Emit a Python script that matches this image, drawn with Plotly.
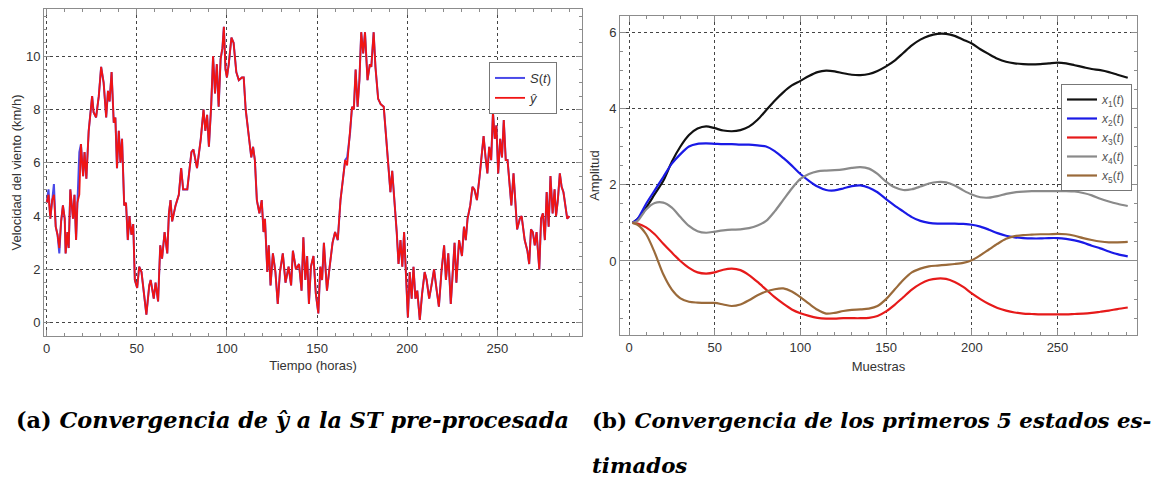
import plotly.graph_objects as go

# ---------------- Left chart data: wind speed (km/h) vs time (hours) ----------------
horas = [0, 1, 2, 3, 4, 5, 6, 7, 8, 9, 10, 10.5, 11.5, 12.2, 13.1, 14.6, 15.4, 16.3, 17, 18.1,
         19, 20.2, 21, 22, 23.3, 24.3, 25.2, 26, 27.4, 28.9, 30.2, 31.6, 33, 34, 34.9, 36, 37.2,
         38.1, 39, 40, 40.9, 41.8, 43, 44, 45, 45.9, 47, 48, 48.9, 50.2, 51.3, 52.6, 53.9, 55.3,
         56.9, 57.7, 59.4, 60.4, 61.8, 63, 64, 65.4, 66.9, 67.8, 68.7, 69.6, 71.5, 73.3, 74.6,
         75.7, 78, 80.3, 81.4, 83.4, 85.5, 87, 88, 89, 90, 91.3, 92.3, 93.4, 94.4, 95.4, 96.5,
         97.5, 98.3, 99.2, 100, 101, 102.5, 103.7, 105.2, 106.6, 108.3, 109.3, 110.4, 111.8,
         113.5, 114.5, 115.5, 116.6, 118, 119.3, 120.3, 121.1, 122.4, 123.2, 124.2, 125.5, 126.9,
         128.2, 129.4, 131, 132.5, 134.2, 135.6, 136.6, 138.3, 140, 141.4, 142.4, 143.5, 144.5,
         145.5, 146.6, 148, 149.3, 150.7, 151.8, 152.8, 153.8, 155.5, 157, 158.6, 160, 161.5,
         163, 164.6, 165.6, 166.7, 168.3, 169.4, 170.4, 171.4, 172.5, 173.5, 174.5, 175.6, 176.6,
         178, 179.3, 180.1, 181.4, 182.4, 183.9, 185.3, 187, 188.4, 189.6, 190.7, 191.7, 193.2,
         194.2, 195.2, 196.3, 197.3, 198.3, 199.4, 200.4, 201.4, 202.5, 203.5, 204.6, 205.6, 207,
         208.3, 209.7, 210.8, 212.2, 213.5, 214.9, 216.4, 217.6, 219, 220.5, 221.5, 222.8, 224.2,
         225.3, 226.3, 227.3, 228.8, 230.4, 231.5, 232.5, 233.5, 235, 236.2, 237.3, 238.7, 240.2,
         241.4, 242.4, 243.5, 244.5, 245.5, 246.6, 247.6, 248.6, 249.5, 250.5, 251.6, 252.6,
         253.6, 254.7, 255.7, 256.7, 257.8, 259, 260, 261, 262.5, 263.5, 265.2, 266.7, 267.7,
         268.7, 269.7, 270.8, 271.8, 273.3, 274.3, 275.3, 276.4, 277.4, 278.5, 279.5, 280.7,
         281.8, 282.6, 283.6, 284.7, 285.7, 286.7, 287.8, 288.8, 290]
y_hat = [4.5, 4.8, 3.9, 4.6, 4.8, 3.6, 3.3, 2.8, 3.8, 4.4, 3.9, 2.6, 3.4, 2.8, 5.0, 3.9, 4.8, 3.1, 4.5, 4.8,
         6.7, 5.5, 6.4, 5.4, 7.2, 7.9, 8.5, 7.9, 7.7, 8.5, 9.6, 9.0, 7.7, 8.7, 8.3, 9.4, 7.5,
         7.7, 5.8, 7.2, 6.0, 6.9, 4.4, 4.5, 3.1, 4.0, 3.3, 3.7, 1.6, 1.3, 2.1, 1.9, 1.0, 0.3,
         1.4, 1.6, 0.9, 1.5, 0.8, 2.9, 2.4, 3.4, 2.6, 4.1, 4.6, 3.8, 4.4, 4.8, 5.8,
         5.0, 5.0, 6.4, 6.5, 5.8, 6.9, 8.0, 7.2, 7.8, 6.6, 8.2, 10.0, 8.6, 9.7, 8.1, 9.9,
         10.3, 11.1, 9.5, 9.2, 9.7, 10.7, 10.5, 9.4, 9.1, 9.2, 9.2, 8.0, 7.1,
         6.2, 6.6, 6.1, 4.6, 4.1, 4.6, 3.4, 3.9, 1.9, 2.9, 1.4, 2.6, 1.9,
         0.7, 1.9, 2.6, 1.5, 2.1, 1.4, 2.7, 2.0, 2.2, 1.2, 3.2, 1.6, 2.5,
         0.7, 2.1, 2.5, 1.1, 0.35, 2.1, 1.6, 3.0, 1.2, 2.1, 3.0, 3.4, 3.1,
         4.6, 5.6, 6.1, 5.9, 7.1, 8.1, 8.0, 9.5, 8.1, 9.1, 10.9, 10.1, 10.9,
         9.1, 9.7, 9.6, 10.9, 9.6, 8.4, 8.2, 8.1, 6.9, 6.0, 4.9, 5.7, 4.5,
         3.4, 2.2, 3.1, 2.1, 3.4, 1.7, 0.2, 1.9, 0.9, 2.1, 0.9, 1.2, 0.1,
         1.1, 1.9, 1.6, 0.9, 1.4, 2.0, 1.2, 0.6, 1.9, 2.9, 1.6, 2.6, 0.7,
         1.9, 3.0, 1.5, 3.1, 2.5, 3.6, 3.1, 3.9, 4.4, 5.1, 5.0, 4.6, 5.5,
         6.4, 7.0, 6.2, 5.6, 6.6, 6.1, 7.9, 6.9, 7.4, 5.6, 6.9, 6.2,
         7.6, 6.1, 6.1, 5.2, 4.4, 5.6, 4.4, 3.5, 3.9, 4.0, 3.1, 2.7, 2.2,
         3.5, 3.4, 2.9, 3.4, 2.0, 3.9, 4.1, 3.1, 4.9, 3.6, 5.5, 4.1,
         5.0, 4.0, 4.6, 5.6, 5.1, 4.9, 4.4, 3.9, 4.0]
# S(t) follows y_hat except where the blue trace shows through
s_idx = [1, 4, 7, 19, 140]
s_val = [5.0, 5.2, 2.6, 6.4, 6.2]

# ---------------- Right chart data: first 5 estimated states ----------------
muestras = [2, 5, 10, 15, 20, 25, 30, 35, 40, 45, 50, 55, 60, 65, 70, 75, 80, 85, 90, 95, 100,
            105, 110, 115, 120, 125, 130, 135, 140, 145, 150, 155, 160, 165, 170, 175, 180, 185,
            190, 195, 200, 205, 210, 215, 220, 225, 230, 235, 240, 245, 250, 255, 260, 265, 270,
            275, 280, 285, 291]
x1 = [1.0, 1.1, 1.4, 1.75, 2.1, 2.6, 3.0, 3.3, 3.47, 3.53, 3.48, 3.42, 3.4, 3.43, 3.52, 3.7, 3.95,
      4.2, 4.42, 4.6, 4.72, 4.85, 4.95, 4.99, 4.97, 4.92, 4.88, 4.87, 4.9, 4.98, 5.1, 5.25, 5.45,
      5.65, 5.8, 5.9, 5.95, 5.95, 5.9, 5.8, 5.7, 5.55, 5.42, 5.3, 5.22, 5.18, 5.16, 5.15, 5.16,
      5.18, 5.2, 5.18, 5.13, 5.08, 5.03, 5.0, 4.95, 4.88, 4.8]
x2 = [1.0, 1.1, 1.5, 1.85, 2.2, 2.55, 2.8, 3.0, 3.07, 3.08, 3.07, 3.06, 3.06, 3.05, 3.05, 3.03, 3.0,
      2.88, 2.7, 2.5, 2.28, 2.1, 1.95, 1.86, 1.85, 1.9, 1.96, 1.98, 1.92, 1.8, 1.62, 1.45, 1.3,
      1.15, 1.05, 1.0, 0.98, 0.98, 0.98, 0.97, 0.95, 0.9, 0.82, 0.73, 0.66, 0.62, 0.6, 0.59, 0.59,
      0.6, 0.6, 0.58, 0.54, 0.48, 0.4, 0.33, 0.25, 0.18, 0.12]
x3 = [1.0, 0.98, 0.88, 0.7, 0.45, 0.22, 0.0, -0.18, -0.3, -0.33, -0.3, -0.23, -0.2, -0.24, -0.37,
      -0.55, -0.75, -0.95, -1.12, -1.27, -1.37, -1.44, -1.49, -1.51, -1.51, -1.5, -1.5, -1.5,
      -1.49, -1.44, -1.32, -1.15, -0.95, -0.75, -0.6, -0.5, -0.46, -0.47, -0.55, -0.68, -0.85,
      -1.0, -1.13, -1.23, -1.3, -1.35, -1.38, -1.39, -1.4, -1.4, -1.4, -1.4, -1.39, -1.38, -1.36,
      -1.33, -1.3, -1.26, -1.22]
x4 = [1.0, 1.05, 1.35, 1.52, 1.53, 1.4, 1.15, 0.92, 0.78, 0.74, 0.77, 0.8, 0.82, 0.83, 0.86, 0.93,
      1.05, 1.3, 1.6, 1.9, 2.15, 2.28, 2.35, 2.37, 2.38, 2.4, 2.44, 2.46, 2.42, 2.28, 2.08, 1.93,
      1.86, 1.88, 1.95, 2.03, 2.07, 2.06, 1.98, 1.85, 1.74, 1.67, 1.66, 1.7, 1.76, 1.8, 1.82,
      1.83, 1.83, 1.83, 1.83, 1.83, 1.82, 1.78, 1.72, 1.63, 1.56, 1.5, 1.44]
x5 = [1.0, 0.95, 0.7, 0.22, -0.35, -0.75, -0.98, -1.07, -1.09, -1.1, -1.1, -1.14, -1.18, -1.14,
      -1.03, -0.9, -0.8, -0.74, -0.72, -0.8, -0.95, -1.12, -1.28, -1.38, -1.36, -1.31, -1.28,
      -1.27, -1.25, -1.18, -1.0, -0.75, -0.5, -0.3, -0.2, -0.14, -0.12, -0.1, -0.08, -0.05, 0.02,
      0.15, 0.3, 0.45, 0.58, 0.65, 0.68, 0.69, 0.7, 0.7, 0.71, 0.7, 0.66, 0.6, 0.55, 0.51, 0.49,
      0.49, 0.5]

estado_nombres = ["<i>x</i><sub>1</sub>(<i>t</i>)", "<i>x</i><sub>2</sub>(<i>t</i>)",
                  "<i>x</i><sub>3</sub>(<i>t</i>)", "<i>x</i><sub>4</sub>(<i>t</i>)",
                  "<i>x</i><sub>5</sub>(<i>t</i>)"]

W, H = 1162, 478
def px(x):
    return x / W
def py(y):
    return 1 - y / H

s_t = list(y_hat)
for i, v in zip(s_idx, s_val):
    s_t[i] = v

fig = go.Figure()
fig.add_trace(go.Scatter(x=horas, y=s_t, mode="lines", name="<i>S</i>(<i>t</i>)",
                         line=dict(color="#4a4ae8", width=2), xaxis="x", yaxis="y", legend="legend"))
fig.add_trace(go.Scatter(x=horas, y=y_hat, mode="lines", name="<i>ŷ</i>",
                         line=dict(color="#f01414", width=1.8), xaxis="x", yaxis="y", legend="legend"))

colores = ["#111111", "#1a1ae6", "#e61a1a", "#8a8a8a", "#9a6a3a"]
series = [x1, x2, x3, x4, x5]
for k in range(5):
    fig.add_trace(go.Scatter(x=muestras, y=series[k], mode="lines", name=estado_nombres[k],
                             line=dict(color=colores[k], width=2.2, shape="spline", smoothing=0.8),
                             xaxis="x2", yaxis="y2", legend="legend2", legendrank=k + 1))

axis_common = dict(showline=True, linecolor="#8c8c8c", linewidth=1, mirror="ticks",
                   ticks="inside", ticklen=6, tickcolor="#8c8c8c", automargin=False,
                   showgrid=True, gridcolor="#444444", griddash="dot", gridwidth=1,
                   tickfont=dict(family="Liberation Sans, Arial", size=13, color="#333333"),
                   title_font=dict(family="Liberation Sans, Arial", size=13, color="#333333"))

fig.update_layout(
    width=W, height=H, margin=dict(l=0, r=0, t=0, b=0, autoexpand=False),
    paper_bgcolor="white", plot_bgcolor="white", showlegend=True,
    xaxis=dict(domain=[px(44), px(582)], range=[-1.5, 297], tickvals=[0, 50, 100, 150, 200, 250],
               zeroline=False, anchor="y", title=dict(text="Tiempo (horas)", standoff=6),
               minor=dict(ticks="inside", ticklen=3, dtick=10, tickcolor="#8c8c8c", showgrid=False),
               **axis_common),
    yaxis=dict(domain=[py(336), py(9)], range=[-0.5, 11.77], tickvals=[0, 2, 4, 6, 8, 10],
               zeroline=False, anchor="x", title=dict(text="Velocidad del viento (km/h)", standoff=1),
               minor=dict(ticks="inside", ticklen=3, dtick=0.5, tickcolor="#8c8c8c", showgrid=False),
               **axis_common),
    xaxis2=dict(domain=[px(620), px(1137)], range=[-5.25, 296.4], tickvals=[0, 50, 100, 150, 200, 250],
                zeroline=False, anchor="y2", title=dict(text="Muestras", standoff=8),
                minor=dict(ticks="inside", ticklen=3, dtick=10, tickcolor="#8c8c8c", showgrid=False),
                **axis_common),
    yaxis2=dict(domain=[py(335), py(16)], range=[-1.94, 6.42], tickvals=[0, 2, 4, 6],
                zeroline=True, zerolinecolor="#8c8c8c", zerolinewidth=1, anchor="x2",
                title=dict(text="Amplitud", standoff=6),
                minor=dict(ticks="inside", ticklen=3, dtick=0.5, tickcolor="#8c8c8c", showgrid=False),
                **axis_common),
    legend=dict(x=px(489), y=py(62), xanchor="left", yanchor="top", bgcolor="white",
                bordercolor="#777777", borderwidth=1, itemwidth=30, tracegroupgap=0,
                font=dict(family="Liberation Sans, Arial", size=13, color="#333333")),
    legend2=dict(x=px(1061), y=py(84), xanchor="left", yanchor="top", bgcolor="white",
                 bordercolor="#777777", borderwidth=1, itemwidth=30, tracegroupgap=0,
                 font=dict(family="Liberation Sans, Arial", size=12, color="#555555")),
)

fam = "DejaVu Serif, Liberation Serif, serif"
fig.add_annotation(xref="paper", yref="paper", x=px(14), y=py(420), xanchor="left", yanchor="middle",
                   showarrow=False, font=dict(family=fam, size=22.4, color="black"),
                   text="<b>(a) <i>Convergencia de ŷ a la ST pre-procesada</i></b>")
fig.add_annotation(xref="paper", yref="paper", x=px(590), y=py(420), xanchor="left", yanchor="middle",
                   showarrow=False, font=dict(family=fam, size=21.3, color="black"),
                   text="<b>(b) <i>Convergencia de los primeros 5 estados es-</i></b>")
fig.add_annotation(xref="paper", yref="paper", x=px(590), y=py(465), xanchor="left", yanchor="middle",
                   showarrow=False, font=dict(family=fam, size=21.3, color="black"),
                   text="<b><i>timados</i></b>")

fig.write_html("out.html", config={"displayModeBar": False},
               post_script="document.body.style.margin='0px';")
